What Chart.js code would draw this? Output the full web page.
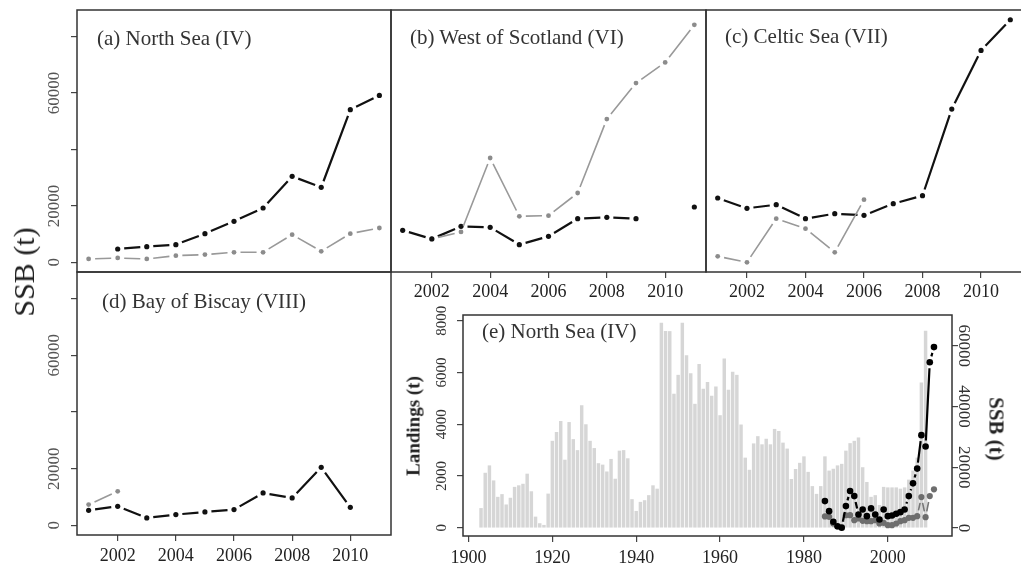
<!DOCTYPE html>
<html><head><meta charset="utf-8">
<script src="https://cdn.jsdelivr.net/npm/chart.js@4.4.1/dist/chart.umd.min.js"></script>
<style>
html,body{margin:0;padding:0;background:#fff;overflow:hidden;width:1021px;height:571px}
canvas{position:absolute}
.t{position:absolute;font-family:"Liberation Serif","Times New Roman",serif;white-space:nowrap;line-height:1;color:#333;font-size:21px}
.r{transform:translate(-50%,-50%) rotate(-90deg)}
.rr{transform:translate(-50%,-50%) rotate(90deg)}
</style></head><body>
<canvas id="pa"></canvas><canvas id="pb"></canvas><canvas id="pc"></canvas>
<canvas id="pd"></canvas><canvas id="pe"></canvas>
<div class="t" style="left:97px;top:28px">(a) North Sea (IV)</div>
<div class="t" style="left:410px;top:27px">(b) West of Scotland (VI)</div>
<div class="t" style="left:725px;top:26px">(c) Celtic Sea (VII)</div>
<div class="t" style="left:102px;top:291px">(d) Bay of Biscay (VIII)</div>
<div class="t" style="left:482px;top:321px">(e) North Sea (IV)</div>
<div class="t r" style="left:24px;top:272px;font-size:30px;color:#222">SSB (t)</div>
<div class="t r" style="left:413px;top:426px;font-size:19px;font-weight:bold;color:#222">Landings (t)</div>
<div class="t rr" style="left:996px;top:429px;font-size:21px;font-weight:bold;color:#222">SSB (t)</div>
<script>
// ---- data ----
const years = [2001,2002,2003,2004,2005,2006,2007,2008,2009,2010,2011];
const northBlack = [null,4720,5550,6260,10160,14530,19250,30470,26570,54090,59170];
const northGrey  = [1180,1535,1180,2360,2720,3540,3540,9800,3900,10160,12160];
const scotBlack  = [11340,8270,12750,12400,6260,9210,15470,15940,15470,null,19600];
const scotGrey   = [null,8300,10750,36970,16300,16530,24560,50780,63540,70860,84200];
const celtBlack  = [22790,19130,20430,15470,17240,16650,20790,23620,54330,75110,85980];
const celtGrey   = [2130,0,15470,11930,3540,22200,null,null,null,null,null];
const biscBlack  = [5290,6700,2590,3760,4700,5530,11410,9640,20460,6350,null];
const biscGrey   = [7290,12000,null,null,null,null,null,null,null,null,null];

const landYears = [];
for (let y = 1903; y <= 2009; y++) landYears.push(y);
const landings = [750,2115,2400,1820,1185,1290,890,1150,1570,1630,1690,2080,1400,420,165,100,1310,
  3350,3690,4115,2620,4075,3415,2990,4725,3990,3350,3070,2485,2430,2165,2650,1885,2970,2990,2675,1095,
  640,990,1055,1250,1630,1500,7910,7590,7590,5170,5900,7910,6660,5960,4780,6320,5360,5620,5090,5450,
  4340,6530,5320,6020,5900,3980,2700,2230,3250,3530,3215,3430,3215,3810,3730,3280,3050,1875,2260,2500,
  2750,2150,1600,1300,1600,2750,2200,2270,2400,2460,2970,3260,3350,3480,2330,1760,1185,1250,870,1570,
  1550,1550,1550,1500,1550,1850,2200,2700,5600,7600];
const ssbYears = [];
for (let y = 1985; y <= 2011; y++) ssbYears.push(y);
const ssbBlack = [8860,5550,2040,600,100,7210,12170,10510,4460,6120,3900,6450,4460,2810,6120,3900,
  4130,4690,5230,6120,10510,14710,19570,30580,26840,54600,59570];
const ssbGrey  = [3800,3680,1500,500,300,4200,4240,2590,3130,2370,2260,2260,2590,1480,1700,930,
  930,1480,2260,2590,3360,3360,3900,10190,3570,10510,12730];

const xTicksTop = [2002,2004,2006,2008,2010];
const yTicksSSB = [0,20000,40000,60000,80000];
const yLabelsSSB = ['0','20000','','60000',''];
const xTicksLand = [1900,1920,1940,1960,1980,2000];
const yTicksLand = [0,2000,4000,6000,8000];
const yTicksRight = [0,20000,40000,60000];

// ---- helpers ----
const FONT = "'Liberation Serif','Times New Roman',serif";
const pts = (xs, ys) => xs.map((x, i) => ({x, y: ys[i]}));

const gapLines = {
  id: 'gapLines',
  afterDatasetsDraw(chart) {
    const ctx = chart.ctx, ca = chart.chartArea;
    chart.data.datasets.forEach((ds, i) => {
      if (!ds.gapLine) return;
      const els = chart.getDatasetMeta(i).data, g = ds.gapLine.gap;
      ctx.save();
      ctx.beginPath(); ctx.rect(ca.left, ca.top, ca.right - ca.left, ca.bottom - ca.top); ctx.clip();
      ctx.beginPath();
      for (let k = 0; k < els.length - 1; k++) {
        const a = els[k], b = els[k + 1];
        if (a.skip || b.skip) continue;
        const dx = b.x - a.x, dy = b.y - a.y, len = Math.hypot(dx, dy);
        if (len <= 2 * g) continue;
        ctx.moveTo(a.x + dx / len * g, a.y + dy / len * g);
        ctx.lineTo(b.x - dx / len * g, b.y - dy / len * g);
      }
      ctx.strokeStyle = ds.gapLine.color; ctx.lineWidth = ds.gapLine.width;
      ctx.stroke(); ctx.restore();
    });
  }
};
const boxPlugin = {
  id: 'boxPlugin',
  afterDraw(chart) {
    const ca = chart.chartArea, ctx = chart.ctx;
    ctx.save(); ctx.strokeStyle = '#333'; ctx.lineWidth = 1.5;
    ctx.strokeRect(ca.left, ca.top, ca.right - ca.left, ca.bottom - ca.top);
    ctx.restore();
  }
};
function rotLabels(specs) {
  return {
    id: 'rotLabels',
    afterDraw(chart) {
      const ctx = chart.ctx, ca = chart.chartArea;
      specs.forEach(sp => {
        const sc = chart.scales[sp.axis];
        const x = sp.side === 'left' ? ca.left - sp.dist : ca.right + sp.dist;
        ctx.save();
        ctx.font = sp.size + 'px ' + FONT; ctx.fillStyle = sp.color;
        ctx.textAlign = 'center'; ctx.textBaseline = 'middle';
        sp.values.forEach((v, i) => {
          if (!sp.labels[i]) return;
          ctx.save(); ctx.translate(x, sc.getPixelForValue(v)); ctx.rotate(sp.angle);
          ctx.fillText(sp.labels[i], 0, 0); ctx.restore();
        });
        ctx.restore();
      });
    }
  };
}
function setupCanvas(id, cv) {
  const el = document.getElementById(id);
  el.width = cv.w; el.height = cv.h;
  el.style.left = cv.x + 'px'; el.style.top = cv.y + 'px';
  return el;
}
const tickGrid = {display:true, drawOnChartArea:false, drawTicks:true, tickLength:6, color:'#444', lineWidth:1.2, offset:false};
const noGrid = {display:false};
const plainTick = v => String(v);

function ssbPanel(id, cv, box, black, grey, showX, showY, xPad) {
  const el = setupCanvas(id, cv);
  const L = box.L - cv.x, T = box.T - cv.y, R = cv.x + cv.w - box.R, B = cv.y + cv.h - box.B;
  const plugins = [gapLines, boxPlugin];
  if (showY) plugins.push(rotLabels([{axis:'y', side:'left', dist:22, size:17, color:'#555',
    angle:-Math.PI/2, values:yTicksSSB, labels:yLabelsSSB}]));
  new Chart(el, {
    type: 'line',
    data: { datasets: [
      {data: pts(years, black), showLine:false, pointRadius:2.6, pointBackgroundColor:'#111', pointBorderWidth:0,
       gapLine:{color:'#111', width:2.2, gap:6.5}},
      {data: pts(years, grey), showLine:false, pointRadius:2.4, pointBackgroundColor:'#8c8c8c', pointBorderWidth:0,
       gapLine:{color:'#999', width:1.6, gap:6.5}}
    ]},
    options: {
      responsive:false, animation:false, events:[],
      layout:{autoPadding:false, padding:{left:0, right:R, top:T, bottom:0}},
      plugins:{legend:{display:false}, tooltip:{enabled:false}},
      scales: {
        x: {type:'linear', min:2000.6, max:2011.4, offset:false,
            afterBuildTicks: s => { s.ticks = xTicksTop.map(v => ({value:v})); },
            afterFit: s => { s.height = B; },
            grid: showX ? tickGrid : noGrid, border:{display:false},
            ticks:{display:showX, font:{family:FONT, size:18}, color:'#222', padding:xPad,
                   maxRotation:0, autoSkip:false, callback:plainTick}},
        y: {type:'linear', min:-3440, max:89440,
            afterBuildTicks: s => { s.ticks = yTicksSSB.map(v => ({value:v})); },
            afterFit: s => { s.width = L; },
            grid: showY ? tickGrid : noGrid, border:{display:false}, ticks:{display:false}}
      }
    },
    plugins
  });
}

ssbPanel('pa', {x:0, y:0, w:392, h:280}, {L:77, T:10, R:391, B:272}, northBlack, northGrey, false, true, 3);
ssbPanel('pb', {x:385, y:0, w:327, h:310}, {L:391, T:10, R:706, B:272}, scotBlack, scotGrey, true, false, 3);
ssbPanel('pc', {x:700, y:0, w:330, h:310}, {L:706, T:10, R:1022, B:272}, celtBlack, celtGrey, true, false, 3);
ssbPanel('pd', {x:0, y:270, w:400, h:301}, {L:77, T:272, R:391, B:535}, biscBlack, biscGrey, true, true, 4);

// ---- panel (e) ----
(function () {
  const cv = {x:380, y:300, w:641, h:271}, box = {L:463, T:315, R:952, B:536};
  const el = setupCanvas('pe', cv);
  const L = box.L - cv.x, T = box.T - cv.y, R = cv.x + cv.w - box.R, B = cv.y + cv.h - box.B;
  new Chart(el, {
    type: 'bar',
    data: { datasets: [
      {type:'line', data: pts(ssbYears, ssbBlack), yAxisID:'y2', order:1, showLine:false,
       pointRadius:3.3, pointBackgroundColor:'#000', pointBorderWidth:0,
       gapLine:{color:'#000', width:2.2, gap:6}},
      {type:'line', data: pts(ssbYears, ssbGrey), yAxisID:'y2', order:2, showLine:false,
       pointRadius:3.1, pointBackgroundColor:'#6e6e6e', pointBorderWidth:0,
       gapLine:{color:'#777', width:1.6, gap:6}},
      {type:'bar', data: pts(landYears, landings), yAxisID:'y', order:3,
       backgroundColor:'#d6d6d6', borderWidth:0, barThickness:2.8}
    ]},
    options: {
      responsive:false, animation:false, events:[],
      layout:{autoPadding:false, padding:{left:0, right:0, top:T, bottom:0}},
      plugins:{legend:{display:false}, tooltip:{enabled:false}},
      scales: {
        x: {type:'linear', min:1898.7, max:2015.3, offset:false,
            afterBuildTicks: s => { s.ticks = xTicksLand.map(v => ({value:v})); },
            afterFit: s => { s.height = B; },
            grid:tickGrid, border:{display:false},
            ticks:{font:{family:FONT, size:18}, color:'#222', padding:5, maxRotation:0, autoSkip:false, callback:plainTick}},
        y: {type:'linear', position:'left', min:-316, max:8226,
            afterBuildTicks: s => { s.ticks = yTicksLand.map(v => ({value:v})); },
            afterFit: s => { s.width = L; },
            grid:tickGrid, border:{display:false}, ticks:{display:false}},
        y2: {type:'linear', position:'right', min:-2630, max:70140,
            afterBuildTicks: s => { s.ticks = yTicksRight.map(v => ({value:v})); },
            afterFit: s => { s.width = R; },
            grid:tickGrid, border:{display:false}, ticks:{display:false}}
      }
    },
    plugins: [gapLines, boxPlugin, rotLabels([
      {axis:'y', side:'left', dist:21, size:15, color:'#333', angle:-Math.PI/2,
       values:yTicksLand, labels:yTicksLand.map(String)},
      {axis:'y2', side:'right', dist:11, size:17, color:'#333', angle:Math.PI/2,
       values:yTicksRight, labels:yTicksRight.map(String)}
    ])]
  });
})();
</script>
</body></html>
